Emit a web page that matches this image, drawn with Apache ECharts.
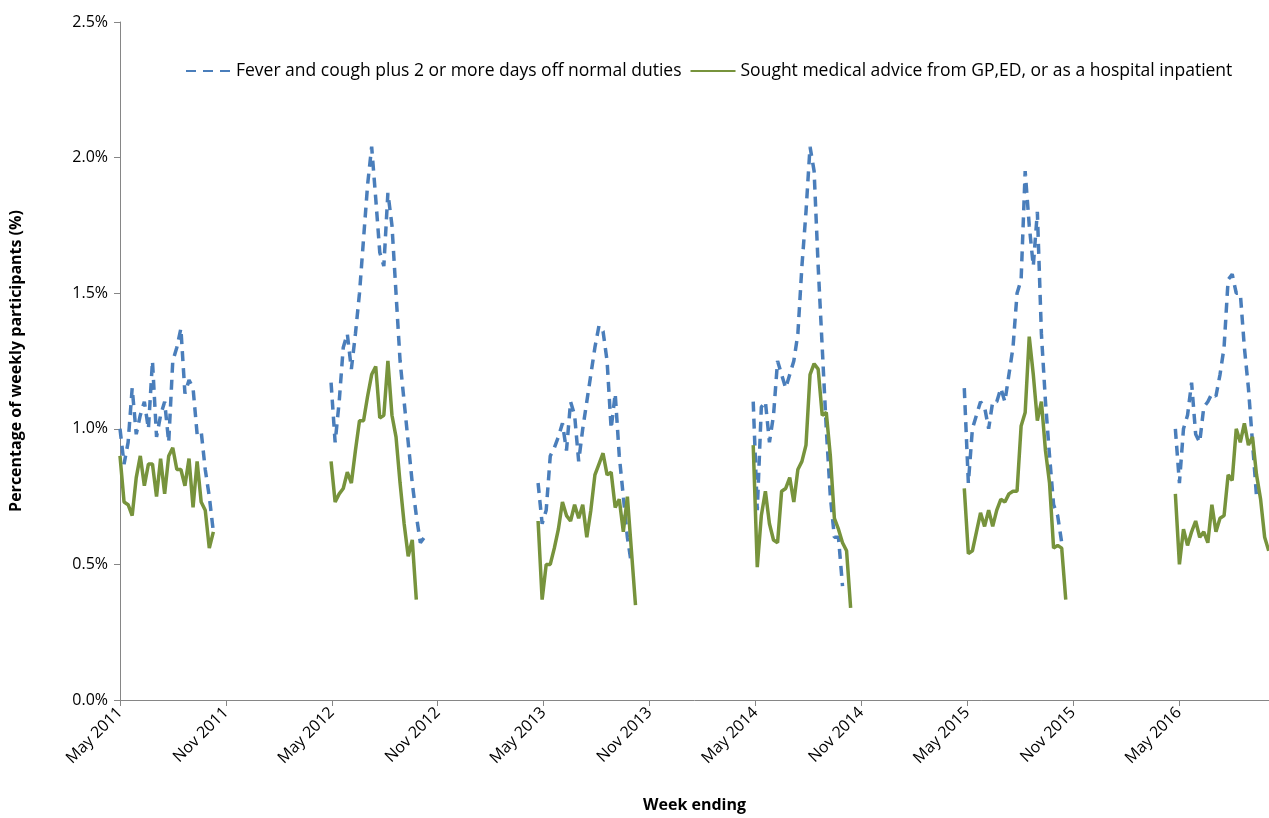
<!DOCTYPE html>
<html>
<head>
<meta charset="utf-8">
<script src="https://cdn.jsdelivr.net/npm/echarts@6/dist/echarts.min.js"></script>
<style>html,body{margin:0;padding:0;background:#fff}#chart{width:1269px;height:818px}</style>
</head>
<body>
<div id="chart"></div>
<script>
// first week ending of each season
const seasonStarts = ['2011-05-01', '2012-04-29', '2013-04-21', '2014-04-27', '2015-04-26', '2016-04-24'];

const fever2011 = [1.0, 0.87, 0.95, 1.15, 0.98, 1.05, 1.1, 1.0, 1.25, 0.97, 1.05, 1.1, 0.95, 1.25, 1.3, 1.37, 1.13, 1.18, 1.15, 0.98, 0.99, 0.85, 0.75, 0.62];
const fever2012 = [1.17, 0.95, 1.1, 1.3, 1.35, 1.22, 1.35, 1.5, 1.7, 1.9, 2.04, 1.85, 1.65, 1.6, 1.87, 1.75, 1.5, 1.25, 1.1, 0.95, 0.8, 0.68, 0.58, 0.6];
const fever2013 = [0.8, 0.65, 0.7, 0.9, 0.93, 0.97, 1.02, 0.92, 1.1, 1.05, 0.88, 1.0, 1.1, 1.2, 1.3, 1.38, 1.36, 1.25, 1.0, 1.13, 0.9, 0.75, 0.6, 0.5];
const fever2014 = [1.1, 0.7, 1.08, 1.1, 0.95, 1.05, 1.25, 1.2, 1.15, 1.2, 1.25, 1.35, 1.6, 1.8, 2.04, 1.95, 1.6, 1.3, 1.0, 0.75, 0.6, 0.6, 0.42];
const fever2015 = [1.15, 0.8, 1.0, 1.05, 1.1, 1.08, 1.0, 1.1, 1.1, 1.15, 1.1, 1.2, 1.3, 1.5, 1.55, 1.95, 1.75, 1.6, 1.8, 1.35, 1.1, 0.9, 0.72, 0.68, 0.58];
const fever2016 = [1.0, 0.8, 1.0, 1.05, 1.17, 0.98, 0.95, 1.08, 1.1, 1.13, 1.12, 1.2, 1.3, 1.55, 1.57, 1.5, 1.5, 1.3, 1.15, 0.95, 0.75];

const advice2011 = [0.9, 0.73, 0.72, 0.68, 0.82, 0.9, 0.79, 0.87, 0.87, 0.75, 0.89, 0.76, 0.9, 0.93, 0.85, 0.85, 0.79, 0.89, 0.71, 0.88, 0.73, 0.7, 0.56, 0.62];
const advice2012 = [0.88, 0.73, 0.76, 0.78, 0.84, 0.8, 0.92, 1.03, 1.03, 1.12, 1.2, 1.23, 1.04, 1.05, 1.25, 1.05, 0.97, 0.8, 0.65, 0.53, 0.59, 0.37];
const advice2013 = [0.66, 0.37, 0.5, 0.5, 0.56, 0.63, 0.73, 0.68, 0.66, 0.72, 0.67, 0.72, 0.6, 0.7, 0.83, 0.87, 0.91, 0.83, 0.84, 0.71, 0.74, 0.62, 0.75, 0.55, 0.35];
const advice2014 = [0.94, 0.49, 0.68, 0.77, 0.65, 0.59, 0.58, 0.77, 0.78, 0.82, 0.73, 0.85, 0.88, 0.94, 1.2, 1.24, 1.22, 1.05, 1.06, 0.9, 0.67, 0.63, 0.58, 0.55, 0.34];
const advice2015 = [0.78, 0.54, 0.55, 0.62, 0.69, 0.64, 0.7, 0.64, 0.7, 0.74, 0.73, 0.76, 0.77, 0.77, 1.01, 1.06, 1.34, 1.2, 1.03, 1.1, 0.92, 0.8, 0.56, 0.57, 0.56, 0.37];
const advice2016 = [0.76, 0.5, 0.63, 0.57, 0.62, 0.66, 0.6, 0.62, 0.58, 0.72, 0.62, 0.67, 0.68, 0.83, 0.81, 1.0, 0.95, 1.02, 0.94, 0.97, 0.83, 0.74, 0.6, 0.55];

const yTicks = [0, 0.5, 1.0, 1.5, 2.0, 2.5];
const monthNames = ['May', 'Nov'];

const fever = [fever2011, fever2012, fever2013, fever2014, fever2015, fever2016];
const advice = [advice2011, advice2012, advice2013, advice2014, advice2015, advice2016];

// x is months since 1 May 2011
const origin = Date.UTC(2011, 4, 1);
const MONTH = 30.4375 * 86400000;
function build(seasons) {
    const out = [];
    seasons.forEach(function (vals, s) {
        const p = seasonStarts[s].split('-');
        const t0 = Date.UTC(+p[0], +p[1] - 1, +p[2]);
        vals.forEach(function (v, i) {
            out.push([(t0 + i * 7 * 86400000 - origin) / MONTH, v]);
        });
        out.push('-');
    });
    return out;
}

const chart = echarts.init(document.getElementById('chart'));
chart.setOption({
    animation: false,
    textStyle: { fontFamily: 'Open Sans, Liberation Sans, sans-serif', color: '#000' },
    legend: {
        top: 57, left: 180, itemGap: 8, itemWidth: 45, itemHeight: 4,
        textStyle: { fontSize: 17.5, color: '#000' },
        data: [
            { name: 'Fever and cough plus 2 or more days off normal duties', itemStyle: { opacity: 0 } },
            { name: 'Sought medical advice from GP,ED, or as a hospital inpatient', itemStyle: { opacity: 0 } }
        ]
    },
    grid: { left: 119, right: 0, top: 22, bottom: 107, containLabel: false },
    xAxis: {
        type: 'value', min: 0, max: 65.1, interval: 6,
        name: 'Week ending', nameLocation: 'middle', nameGap: 97,
        nameTextStyle: { fontWeight: 'bold', fontSize: 16, color: '#000' },
        axisLine: { lineStyle: { color: '#868686' } },
        axisTick: { show: true, length: 6, lineStyle: { color: '#868686' } },
        splitLine: { show: false },
        axisLabel: {
            rotate: 45, fontSize: 16, color: '#000', margin: 10, showMaxLabel: false,
            formatter: function (v) {
                const k = Math.round(v / 6);
                return monthNames[k % 2] + ' ' + (2011 + Math.floor(k / 2));
            }
        }
    },
    yAxis: {
        type: 'value', min: yTicks[0], max: yTicks[yTicks.length - 1], interval: 0.5,
        name: 'Percentage of weekly participants (%)', nameLocation: 'middle', nameGap: 96,
        nameTextStyle: { fontWeight: 'bold', fontSize: 16, color: '#000' },
        axisLine: { show: true, lineStyle: { color: '#868686' } },
        axisTick: { show: true, length: 6, lineStyle: { color: '#868686' } },
        splitLine: { show: false },
        axisLabel: { fontSize: 16, color: '#000', margin: 12, formatter: function (v) { return v.toFixed(1) + '%'; } }
    },
    series: [
        {
            name: 'Fever and cough plus 2 or more days off normal duties',
            type: 'line', showSymbol: false, connectNulls: false,
            data: build(fever),
            lineStyle: { color: '#4a7ebb', width: 3.5, type: [10, 7] },
            itemStyle: { color: '#4a7ebb' }
        },
        {
            name: 'Sought medical advice from GP,ED, or as a hospital inpatient',
            type: 'line', showSymbol: false, connectNulls: false,
            data: build(advice),
            lineStyle: { color: '#77933c', width: 3.5 },
            itemStyle: { color: '#77933c' }
        }
    ]
});
</script>
</body>
</html>
